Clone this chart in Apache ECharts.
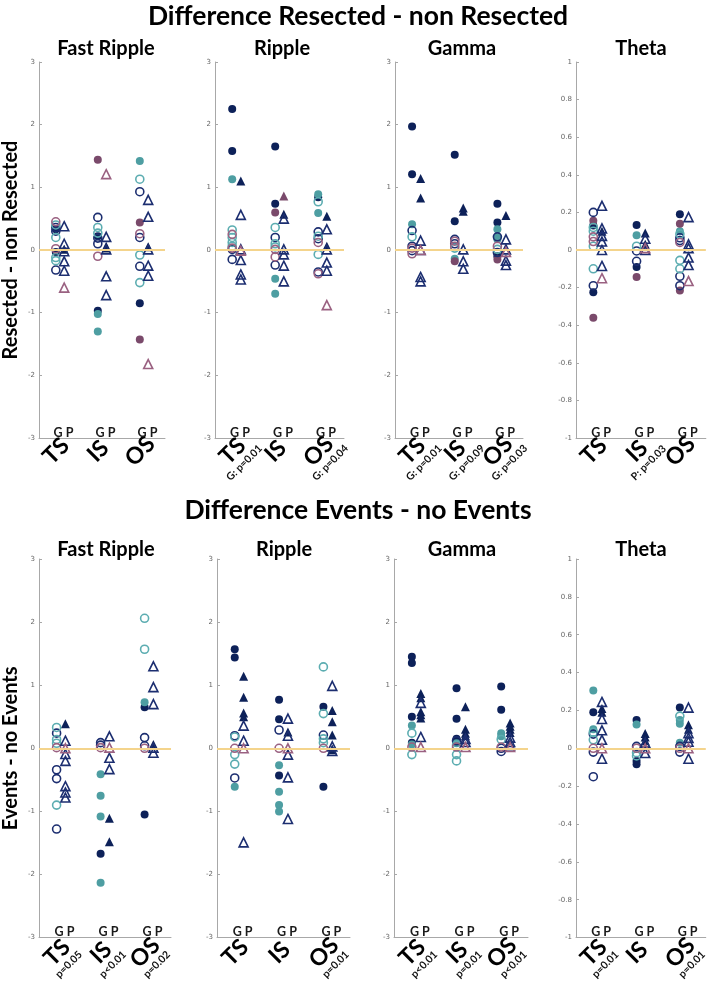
<!DOCTYPE html>
<html><head><meta charset="utf-8">
<script src="https://cdn.jsdelivr.net/npm/echarts@6/dist/echarts.min.js"></script>
<style>html,body{margin:0;padding:0;background:#fff}#c{width:709px;height:982px}</style>
</head><body><div id="c"></div><script>
// ---------- data ----------
const groups = ['TS', 'IS', 'OS'];
const bands = ['Fast Ripple', 'Ripple', 'Gamma', 'Theta'];
const mainTitles = ['Difference Resected - non Resected', 'Difference Events - no Events'];
const rowAxisNames = ['Resected - non Resected', 'Events - no Events'];
const resPvals = [['', '', ''], ['G: p=0.01', '', 'G: p=0.04'], ['G: p=0.01', 'G: p=0.09', 'G: p=0.03'], ['', 'P: p=0.03', '']];
const evtPvals = [['p=0.05', 'p<0.01', 'p=0.02'], ['', '', 'p=0.01'], ['p<0.01', 'p=0.01', 'p<0.01'], ['p=0.01', '', 'p=0.01']];
const wideRange = [-3, 3, 1];
const thetaRange = [-1, 1, 0.2];

// each array: [TS values, IS values, OS values]
// Resected - non Resected : Fast Ripple
const resFR_navyDot = [[0.33, -0.03], [0.22, -0.97], [-0.85]];
const resFR_navyRing = [[0.36, 0.3, -0.32], [0.52, 0.19, 0.1], [0.93, 0.2, -0.26]];
const resFR_tealDot = [[], [-1.02, -1.3], [1.42]];
const resFR_tealRing = [[0.4, 0.2, -0.12, -0.17], [0.36, 0.27], [1.13, -0.08, -0.52]];
const resFR_plumDot = [[], [1.44], [0.44, -1.43]];
const resFR_plumRing = [[0.45, 0.02], [-0.1], [0.26]];
const resFR_navyTri = [[0.01], [0.06, 0.03], [0.05]];
const resFR_navyTriOpen = [[0.38, 0.1, -0.02, -0.18, -0.33], [0.21, 0.01, -0.42, -0.72], [0.8, 0.53, 0.01, -0.25, -0.41]];
const resFR_plumTri = [[], [], []];
const resFR_plumTriOpen = [[-0.6], [1.21], [-1.82]];
// Resected : Ripple
const resR_navyDot = [[2.25, 1.58], [1.65, 0.74], [0.84]];
const resR_navyRing = [[0.01, -0.15], [0.2, -0.24], [0.29, 0.18, -0.35]];
const resR_tealDot = [[1.13], [-0.46, -0.7], [0.89, 0.59]];
const resR_tealRing = [[0.32, 0.2, 0.12, 0.06], [0.36, 0.1, 0.05], [0.77, 0.22, -0.07]];
const resR_plumDot = [[], [0.6], []];
const resR_plumRing = [[0.25, 0.03], [0.01, -0.11], [0.12, -0.38]];
const resR_navyTri = [[1.1], [0.57], [0.54, 0.06]];
const resR_navyTriOpen = [[0.56, 0.01, -0.16, -0.39, -0.47], [0.5, 0.01, -0.07, -0.25, -0.5], [0.33, 0.01, -0.2, -0.33]];
const resR_plumTri = [[], [0.86], []];
const resR_plumTriOpen = [[-0.01], [], [-0.88]];
// Resected : Gamma
const resGa_navyDot = [[1.97, 1.21], [1.52, 0.46], [0.74, 0.44, -0.1]];
const resGa_navyRing = [[0.31, 0.06, -0.01], [0.17, 0.1], [0.21, -0.04]];
const resGa_tealDot = [[0.41], [-0.14], [0.33, 0.2, 0.17]];
const resGa_tealRing = [[0.21], [0.03], [0.01]];
const resGa_plumDot = [[], [-0.18], [-0.15]];
const resGa_plumRing = [[0.03, -0.06], [0.14, 0.06], [0.06]];
const resGa_navyTri = [[1.14, 0.83], [0.67, 0.62], [0.55]];
const resGa_navyTriOpen = [[0.15, 0.0, -0.43, -0.5], [0.01, -0.18, -0.3], [0.17, 0.01, -0.17, -0.24]];
const resGa_plumTri = [[], [], []];
const resGa_plumTriOpen = [[0.0], [], [-0.03]];
// Resected : Theta
const resTh_navyDot = [[0.13, -0.225], [0.133, -0.09], [0.19]];
const resTh_navyRing = [[0.2, -0.19], [-0.005, -0.06], [0.065, 0.05, -0.14, -0.19]];
const resTh_tealDot = [[], [0.078], [0.1]];
const resTh_tealRing = [[0.12, 0.1, 0.02, -0.1], [0.02], [0.085, -0.055, -0.1]];
const resTh_plumDot = [[0.155, -0.36], [-0.144], [0.14, -0.215]];
const resTh_plumRing = [[0.07, 0.045], [], [0.04]];
const resTh_navyTri = [[0.1], [0.09, 0.03], []];
const resTh_navyTriOpen = [[0.235, 0.115, 0.075, 0.045, 0.0, -0.085], [0.06, 0.0], [0.175, 0.03, 0.01, -0.04, -0.08]];
const resTh_plumTri = [[], [], []];
const resTh_plumTriOpen = [[-0.15], [0.01], [-0.165]];

// Events - no Events : Fast Ripple
const evtFR_navyDot = [[], [-1.67], [0.65, -1.05]];
const evtFR_navyRing = [[0.24, -0.34, -0.48, -1.28], [0.09, 0.05], [0.17, 0.04]];
const evtFR_tealDot = [[], [-0.41, -0.75, -1.08, -2.13], [0.73]];
const evtFR_tealRing = [[0.33, 0.14, 0.08, -0.9], [], [2.06, 1.57]];
const evtFR_plumDot = [[], [], []];
const evtFR_plumRing = [[0.01], [0.01], [0.0]];
const evtFR_navyTri = [[0.39], [-1.11, -1.48], [0.06]];
const evtFR_navyTriOpen = [[0.12, -0.09, -0.2, -0.6, -0.7, -0.78], [0.19, -0.15, -0.33], [1.3, 0.97, 0.7, 0.01, -0.07]];
const evtFR_plumTri = [[], [], []];
const evtFR_plumTriOpen = [[0.0], [0.01], []];
// Events : Ripple
const evtR_navyDot = [[1.57, 1.44], [0.77, 0.46, -0.43], [0.66, -0.61]];
const evtR_navyRing = [[0.2, -0.47], [0.29], [0.21]];
const evtR_tealDot = [[-0.61], [-0.27, -0.69, -0.9, -1.0], []];
const evtR_tealRing = [[0.18, -0.1, -0.25], [], [1.29, 0.55, 0.15, 0.09]];
const evtR_plumDot = [[], [], []];
const evtR_plumRing = [[0.0], [0.0], [0.0]];
const evtR_navyTri = [[1.14, 0.81, 0.56, 0.5], [0.26], [0.6, 0.42, 0.21, -0.02]];
const evtR_navyTriOpen = [[0.36, 0.12, -1.49], [0.47, 0.2, -0.1, -0.46, -1.12], [0.99, 0.03, -0.04]];
const evtR_plumTri = [[], [], []];
const evtR_plumTriOpen = [[0.0], [0.0], []];
// Events : Gamma
const evtGa_navyDot = [[1.45, 1.35, 0.5, 0.09], [0.95, 0.47, 0.15], [0.98, 0.61]];
const evtGa_navyRing = [[], [0.12], [-0.05, 0.0]];
const evtGa_tealDot = [[0.36, 0.06], [0.08], [0.24, 0.19]];
const evtGa_tealRing = [[0.24, -0.1], [0.05, -0.1, -0.2], [0.14]];
const evtGa_plumDot = [[], [], []];
const evtGa_plumRing = [[0.02], [0.02], [0.02]];
const evtGa_navyTri = [[0.87, 0.8, 0.58, 0.53, 0.48], [0.66, 0.3, 0.24, 0.2], [0.4, 0.35, 0.3, 0.25]];
const evtGa_navyTriOpen = [[0.72, 0.18], [0.15, 0.1], [0.17, 0.1, 0.05]];
const evtGa_plumTri = [[], [], []];
const evtGa_plumTriOpen = [[0.02], [0.02], [0.02]];
// Events : Theta
const evtTh_navyDot = [[0.19], [0.149, -0.067, -0.084], [0.215]];
const evtTh_navyRing = [[0.075, -0.02, -0.15], [0.01], [0.01, -0.02]];
const evtTh_tealDot = [[0.305, 0.1], [0.126], [0.15, 0.13, 0.03]];
const evtTh_tealRing = [[0.085, 0.045], [-0.023, -0.04], [0.17]];
const evtTh_plumDot = [[], [], []];
const evtTh_plumRing = [[0.0], [0.0], [0.0]];
const evtTh_navyTri = [[0.21, 0.19], [0.078, 0.06, 0.04], [0.125, 0.1]];
const evtTh_navyTriOpen = [[0.245, 0.155, 0.095, 0.045, -0.055], [0.03, -0.025], [0.215, 0.08, 0.055, 0.035, -0.055]];
const evtTh_plumTri = [[], [], []];
const evtTh_plumTriOpen = [[0.0], [0.0], [0.0]];

// ---------- styling / layout ----------
const NAVY = '#0d2159', NAVY_L = '#1c2e70', TEAL = '#4e9ea2', TEAL_L = '#5cadb1', PLUM = '#7a4a6b', PLUM_L = '#9a6181';
const AX = '#a8a8a8';
const FONT = 'Lato';
const styles = {
  navyDot: { dx: -0.1, symbol: 'circle', color: NAVY, fill: true },
  tealDot: { dx: -0.1, symbol: 'circle', color: TEAL, fill: true },
  plumDot: { dx: -0.1, symbol: 'circle', color: PLUM, fill: true },
  navyRing: { dx: -0.1, symbol: 'circle', color: NAVY_L, fill: false },
  tealRing: { dx: -0.1, symbol: 'circle', color: TEAL_L, fill: false },
  plumRing: { dx: -0.1, symbol: 'circle', color: PLUM_L, fill: false },
  navyTri: { dx: 0.1, symbol: 'triangle', color: NAVY, fill: true },
  plumTri: { dx: 0.1, symbol: 'triangle', color: PLUM, fill: true },
  navyTriOpen: { dx: 0.1, symbol: 'triangle', color: NAVY_L, fill: false },
  plumTriOpen: { dx: 0.1, symbol: 'triangle', color: PLUM_L, fill: false }
};
const mk = (a, b, c, d, e, f, g, h, i, j) => ({ navyDot: a, navyRing: b, tealDot: c, tealRing: d, plumDot: e, plumRing: f, navyTri: g, navyTriOpen: h, plumTri: i, plumTriOpen: j });
const panels = [
  { row: 0, col: 0, rng: wideRange, pv: resPvals[0], sets: mk(resFR_navyDot, resFR_navyRing, resFR_tealDot, resFR_tealRing, resFR_plumDot, resFR_plumRing, resFR_navyTri, resFR_navyTriOpen, resFR_plumTri, resFR_plumTriOpen) },
  { row: 0, col: 1, rng: wideRange, pv: resPvals[1], sets: mk(resR_navyDot, resR_navyRing, resR_tealDot, resR_tealRing, resR_plumDot, resR_plumRing, resR_navyTri, resR_navyTriOpen, resR_plumTri, resR_plumTriOpen) },
  { row: 0, col: 2, rng: wideRange, pv: resPvals[2], sets: mk(resGa_navyDot, resGa_navyRing, resGa_tealDot, resGa_tealRing, resGa_plumDot, resGa_plumRing, resGa_navyTri, resGa_navyTriOpen, resGa_plumTri, resGa_plumTriOpen) },
  { row: 0, col: 3, rng: thetaRange, pv: resPvals[3], sets: mk(resTh_navyDot, resTh_navyRing, resTh_tealDot, resTh_tealRing, resTh_plumDot, resTh_plumRing, resTh_navyTri, resTh_navyTriOpen, resTh_plumTri, resTh_plumTriOpen) },
  { row: 1, col: 0, rng: wideRange, pv: evtPvals[0], sets: mk(evtFR_navyDot, evtFR_navyRing, evtFR_tealDot, evtFR_tealRing, evtFR_plumDot, evtFR_plumRing, evtFR_navyTri, evtFR_navyTriOpen, evtFR_plumTri, evtFR_plumTriOpen) },
  { row: 1, col: 1, rng: wideRange, pv: evtPvals[1], sets: mk(evtR_navyDot, evtR_navyRing, evtR_tealDot, evtR_tealRing, evtR_plumDot, evtR_plumRing, evtR_navyTri, evtR_navyTriOpen, evtR_plumTri, evtR_plumTriOpen) },
  { row: 1, col: 2, rng: wideRange, pv: evtPvals[2], sets: mk(evtGa_navyDot, evtGa_navyRing, evtGa_tealDot, evtGa_tealRing, evtGa_plumDot, evtGa_plumRing, evtGa_navyTri, evtGa_navyTriOpen, evtGa_plumTri, evtGa_plumTriOpen) },
  { row: 1, col: 3, rng: thetaRange, pv: evtPvals[3], sets: mk(evtTh_navyDot, evtTh_navyRing, evtTh_tealDot, evtTh_tealRing, evtTh_plumDot, evtTh_plumRing, evtTh_navyTri, evtTh_navyTriOpen, evtTh_plumTri, evtTh_plumTriOpen) }
];
const rowLayout = [
  { top: 62, height: 376, lefts: [37, 215, 395, 576], widths: [128, 129, 128, 130], subY: 39, titleY: 3, subX: [106, 282, 462, 641], lblMargin: 17 },
  { top: 559, height: 380, lefts: [37, 217, 394, 576], widths: [134, 133, 134, 133], subY: 540, titleY: 497, subX: [106, 284, 462, 641], lblMargin: 19 }
];

const grid = [], xAxis = [], yAxis = [], series = [], title = [];
mainTitles.forEach((t, r) => title.push({ text: t, left: 358, top: rowLayout[r].titleY, padding: 0, textAlign: 'center', textStyle: { fontFamily: FONT, fontSize: 26.5, fontWeight: 'bold', color: '#000' } }));

panels.forEach((pn, k) => {
  const L = rowLayout[pn.row];
  grid.push({ left: L.lefts[pn.col], top: L.top, width: L.widths[pn.col], height: L.height });
  title.push({ text: bands[pn.col], left: L.subX[pn.col], top: L.subY, padding: 0, textAlign: 'center', textStyle: { fontFamily: FONT, fontSize: 20, fontWeight: 'bold', color: '#000' } });
  xAxis.push({ type: 'value', gridIndex: k, min: 0, max: 3, show: false });
  xAxis.push({
    type: 'category', gridIndex: k, data: groups, position: 'bottom',
    axisLine: { lineStyle: { color: AX, width: 1 } },
    axisTick: { inside: true, length: 3, lineStyle: { color: AX } },
    axisLabel: {
      interval: 0, rotate: 45, margin: L.lblMargin, align: 'center', verticalAlign: 'middle',
      formatter: (v, i) => '{g|' + v + '}\n{p|' + (pn.pv[i] || ' ') + '}',
      rich: {
        g: { fontFamily: FONT, fontSize: 23, fontWeight: 'bold', color: '#000', lineHeight: 22, align: 'center' },
        p: { fontFamily: FONT, fontSize: 10.5, fontWeight: 'bold', color: '#111', lineHeight: 11, align: 'center' }
      }
    }
  });
  xAxis.push({
    type: 'category', gridIndex: k, data: groups, position: 'bottom',
    axisLine: { show: false }, axisTick: { show: false },
    axisLabel: { inside: true, interval: 0, margin: -1, padding: [0, 0, 0, 7], formatter: () => 'G P', fontFamily: FONT, fontSize: 12.5, fontWeight: 'bold', color: '#1a1a1a' }
  });
  yAxis.push({
    type: 'value', gridIndex: k, min: pn.rng[0], max: pn.rng[1], interval: pn.rng[2],
    splitLine: { show: false },
    axisLine: { show: true, lineStyle: { color: AX } },
    axisTick: { show: true, inside: true, length: 3, lineStyle: { color: AX } },
    axisLabel: { fontSize: 7, color: '#666', margin: 4, fontFamily: 'DejaVu Sans' },
    name: pn.col === 0 ? rowAxisNames[pn.row] : '',
    nameLocation: 'middle', nameGap: 18,
    nameTextStyle: { fontFamily: FONT, fontSize: 20, fontWeight: 'bold', color: '#000' }
  });
  series.push({
    type: 'scatter', xAxisIndex: 3 * k, yAxisIndex: k, data: [], silent: true, z: 1,
    markLine: { silent: true, symbol: 'none', label: { show: false }, lineStyle: { color: '#f4d48c', width: 2, type: 'solid' }, data: [{ yAxis: 0 }] }
  });
  Object.keys(pn.sets).forEach(name => {
    const st = styles[name];
    const pts = [];
    pn.sets[name].forEach((vals, gi) => vals.forEach(v => pts.push([gi + 0.5 + st.dx, v])));
    if (!pts.length) return;
    series.push({
      type: 'scatter', xAxisIndex: 3 * k, yAxisIndex: k, data: pts, z: st.fill ? 3 : 4,
      symbol: st.symbol, symbolSize: st.symbol === 'triangle' ? 9 : 8,
      itemStyle: st.fill ? { color: st.color, opacity: 1 } : { color: 'rgba(255,255,255,0)', borderColor: st.color, borderWidth: 1.6, opacity: 1 }
    });
  });
});

const chart = echarts.init(document.getElementById('c'), null, { renderer: 'canvas' });
chart.setOption({ animation: false, backgroundColor: '#fff', title, grid, xAxis, yAxis, series });
</script></body></html>
